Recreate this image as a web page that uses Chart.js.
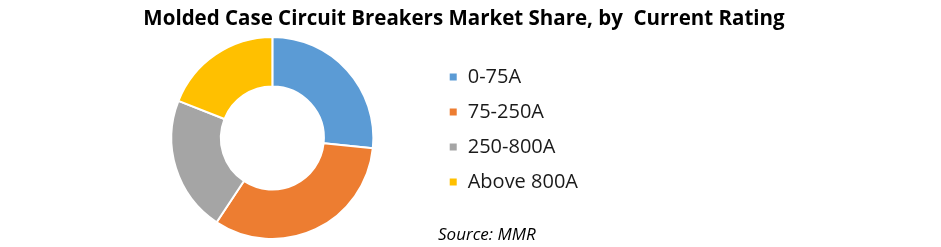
<!DOCTYPE html>
<html lang="en">
  <head>
    <meta charset="UTF-8" />
    <title>Molded Case Circuit Breakers Market Share</title>
    <script src="https://cdn.jsdelivr.net/npm/chart.js"></script>
    <style>
      body {
        margin: 0;
        background-color: #ffffff;
      }

      .chart-wrap {
        position: relative;
        width: 941px;
        height: 247px;
      }

      .chart-title {
        position: absolute;
        left: 0;
        top: 5px;
        width: 928px;
        text-align: center;
        font-family: "Open Sans", sans-serif;
        font-weight: bold;
        font-size: 20.5px;
        line-height: 24px;
        color: #000000;
        white-space: pre;
      }

      .chart-source {
        position: absolute;
        left: 438px;
        top: 224px;
        font-family: "Open Sans", sans-serif;
        font-style: italic;
        font-size: 17px;
        line-height: 20px;
        color: #000000;
      }
    </style>
  </head>
  <body>
    <div class="chart-wrap">
      <canvas id="shareChart" width="941" height="247"></canvas>
      <div class="chart-title">Molded Case Circuit Breakers Market Share, by  Current Rating</div>
      <div class="chart-source">Source: MMR</div>
    </div>

    <script>
      // current rating segments, share in %
      const categories = ["0-75A", "75-250A", "250-800A", "Above 800A"];
      const shares = [26.6, 32.7, 21.7, 19.0];
      const colors = ["#5B9BD5", "#ED7D31", "#A5A5A5", "#FFC000"];

      new Chart(document.getElementById("shareChart").getContext("2d"), {
        type: "doughnut",
        data: {
          labels: categories,
          datasets: [
            {
              data: shares,
              backgroundColor: colors,
              borderColor: "#ffffff",
              borderWidth: 2,
            },
          ],
        },
        options: {
          responsive: false,
          animation: false,
          cutout: "51%",
          layout: {
            padding: { top: 36, bottom: 7, left: 111, right: 353 },
          },
          plugins: {
            tooltip: { enabled: false },
            legend: {
              position: "right",
              align: "start",
              title: {
                display: true,
                text: "",
                padding: 0,
                font: { size: 16, lineHeight: 1 },
              },
              labels: {
                boxWidth: 9,
                boxHeight: 9,
                padding: 15,
                color: "#1a1a1a",
                font: { family: "'Open Sans', sans-serif", size: 20 },
              },
            },
          },
        },
      });
    </script>
  </body>
</html>
